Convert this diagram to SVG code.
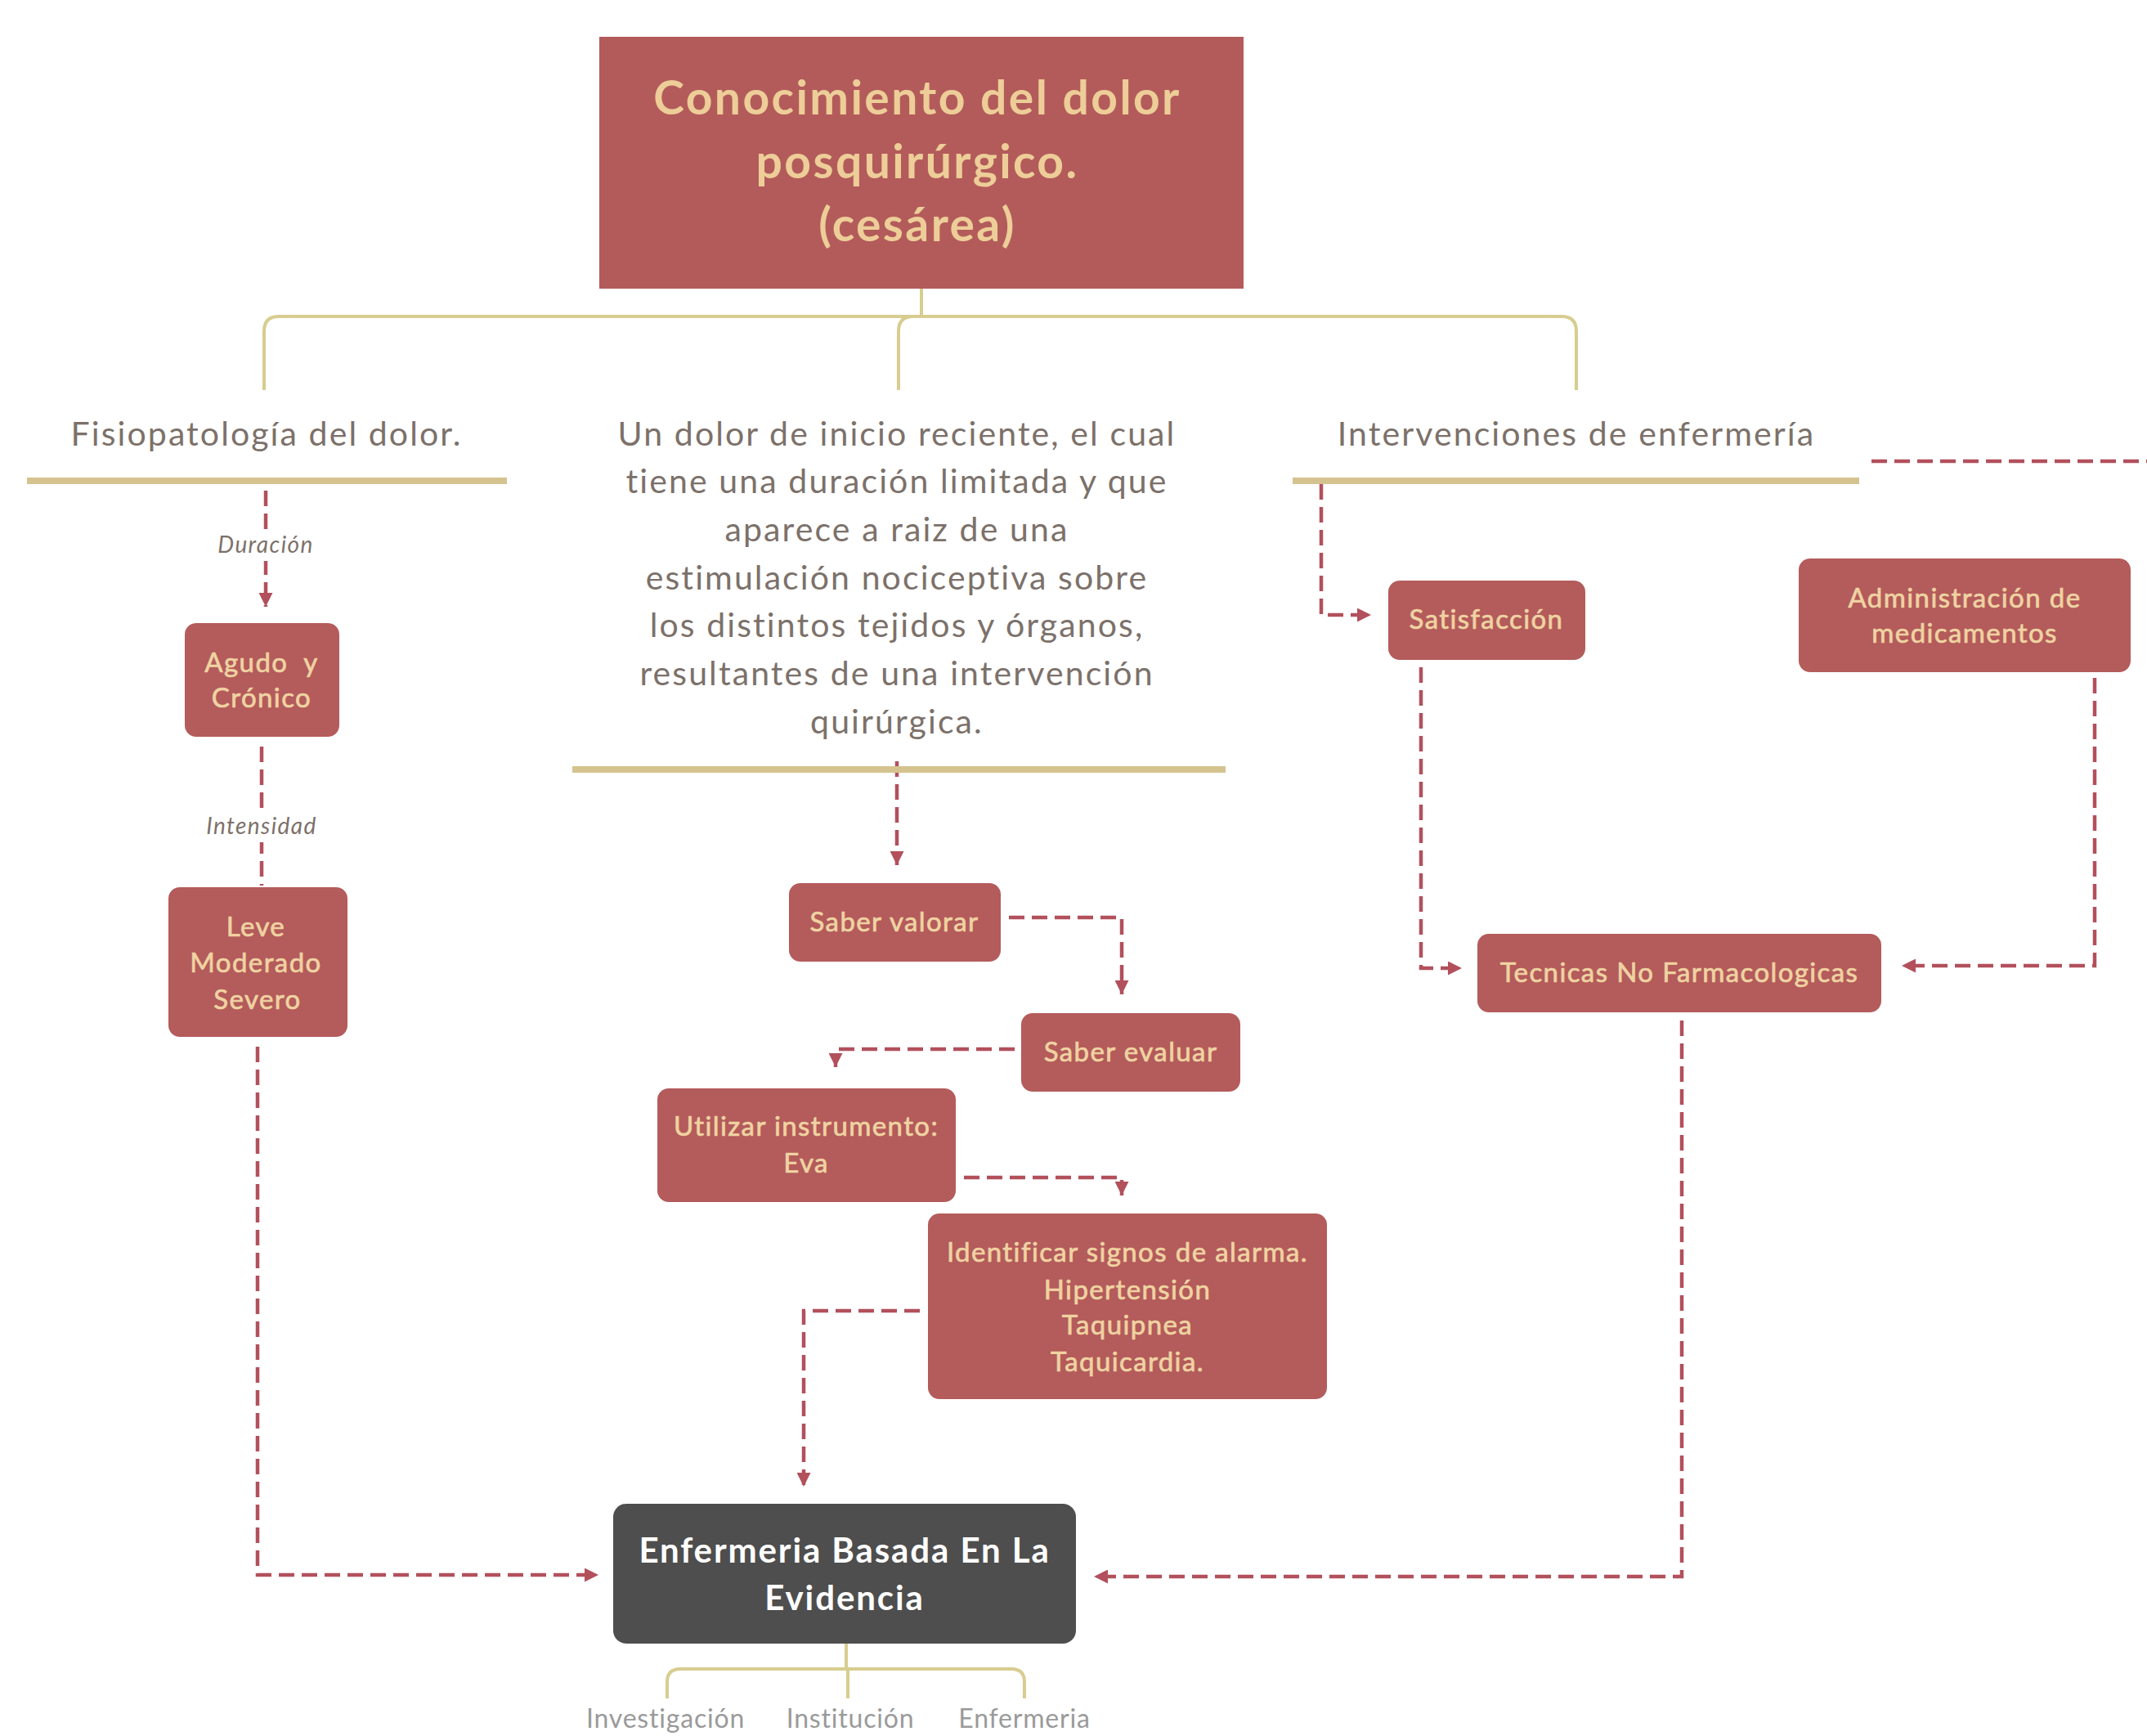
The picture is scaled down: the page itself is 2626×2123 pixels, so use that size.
<svg xmlns="http://www.w3.org/2000/svg" width="2626" height="2123" viewBox="0 0 2626 2123">
<style>
.box{fill:#B45B5B}
.bt{font-family:Lato,"Open Sans","Liberation Sans",sans-serif;font-size:33px;fill:#EFD3A2;stroke:#EFD3A2;stroke-width:0.7px;text-anchor:middle;letter-spacing:1.4px}
.tt{font-family:Lato,"Open Sans","Liberation Sans",sans-serif;font-size:57px;font-weight:bold;fill:#EDCD98;text-anchor:middle;letter-spacing:2.4px}
.wt{font-family:Lato,"Open Sans","Liberation Sans",sans-serif;font-size:42px;font-weight:bold;fill:#FFFFFF;text-anchor:middle;letter-spacing:1.9px}
.hd{font-family:Lato,"Open Sans","Liberation Sans",sans-serif;font-size:41px;fill:#7C716A;text-anchor:middle;letter-spacing:2.1px}
.lbl{font-family:Lato,"Open Sans","Liberation Sans",sans-serif;font-size:28px;font-style:italic;fill:#7C716A;text-anchor:middle;letter-spacing:1.4px}
.sub{font-family:Lato,"Open Sans","Liberation Sans",sans-serif;font-size:32px;fill:#9A9A9A;text-anchor:middle;letter-spacing:0.8px}
.bar{fill:#D5C38F}
.br{fill:none;stroke:#D8CD90;stroke-width:4}
.dash{fill:none;stroke:#B2505C;stroke-width:4.5;stroke-dasharray:19 9}
</style>
<defs>
<marker id="ah" viewBox="0 0 10 10" refX="10" refY="5" markerWidth="17" markerHeight="17" markerUnits="userSpaceOnUse" orient="auto">
<path d="M0,0 L10,5 L0,10 z" fill="#B2505C"/>
</marker>
</defs>
<rect width="2626" height="2123" fill="#FFFFFF"/>

<g id="brackets">
<path class="br" d="M1127 353 V387"/>
<path class="br" d="M323 477 V405 Q323 387 341 387 H1910 Q1928 387 1928 405 V477"/>
<path class="br" d="M1099 477 V405 Q1099 387 1117 387"/>
<path class="br" d="M1035 2010 V2041"/>
<path class="br" d="M816 2077 V2057 Q816 2041 832 2041 H1237 Q1253 2041 1253 2057 V2077"/>
<path class="br" d="M1037 2041 V2077"/>
</g>

<g id="connectors">
<path class="dash" d="M325 600 V742" marker-end="url(#ah)"/>
<path class="dash" d="M320 913 V1083"/>
<path class="dash" d="M315 1280 V1926 H732" marker-end="url(#ah)"/>
<path class="dash" d="M1097 931 V1058" marker-end="url(#ah)"/>
<path class="dash" d="M1234 1122 H1372 V1216" marker-end="url(#ah)"/>
<path class="dash" d="M1241 1283 H1022 V1305" marker-end="url(#ah)"/>
<path class="dash" d="M1179 1440 H1372 V1462" marker-end="url(#ah)"/>
<path class="dash" d="M1125 1603 H983 V1818" marker-end="url(#ah)"/>
<path class="dash" d="M1616 592 V752 H1677" marker-end="url(#ah)"/>
<path class="dash" d="M1738 816 V1184 H1788" marker-end="url(#ah)"/>
<path class="dash" d="M2562 829 V1181 H2326" marker-end="url(#ah)"/>
<path class="dash" d="M2057 1248 V1928 H1338" marker-end="url(#ah)"/>
<path class="dash" d="M2289 564 H2626"/>
<rect x="258" y="648" width="134" height="38" fill="#FFFFFF"/>
<rect x="242" y="992" width="156" height="38" fill="#FFFFFF"/>
<text class="lbl" x="325" y="676">Duración</text>
<text class="lbl" x="320" y="1020">Intensidad</text>
</g>

<g id="title">
<rect x="733" y="45" width="788" height="308" fill="#B35B5A"/>
<text class="tt" x="1122" y="140">Conocimiento del dolor</text>
<text class="tt" x="1122" y="218">posquirúrgico.</text>
<text class="tt" x="1122" y="295">(cesárea)</text>
</g>

<g id="fisiopatologia">
<text class="hd" x="326" y="545">Fisiopatología del dolor.</text>
<rect class="bar" x="33" y="584" width="587" height="8"/>
</g>

<g id="definicion">
<text class="hd" x="1097" y="545">Un dolor de inicio reciente, el cual</text>
<text class="hd" x="1097" y="603">tiene una duración limitada y que</text>
<text class="hd" x="1097" y="662">aparece a raiz de una</text>
<text class="hd" x="1097" y="721">estimulación nociceptiva sobre</text>
<text class="hd" x="1097" y="779">los distintos tejidos y órganos,</text>
<text class="hd" x="1097" y="838">resultantes de una intervención</text>
<text class="hd" x="1097" y="897">quirúrgica.</text>
<rect class="bar" x="700" y="937" width="799" height="8"/>
</g>

<g id="intervenciones">
<text class="hd" x="1928" y="545">Intervenciones de enfermería</text>
<rect class="bar" x="1581" y="584" width="693" height="8"/>
</g>

<g id="agudo">
<rect class="box" x="226" y="762" width="189" height="139" rx="14"/>
<text class="bt" x="320" y="822" xml:space="preserve">Agudo  y</text>
<text class="bt" x="320" y="865">Crónico</text>
</g>

<g id="leve">
<rect class="box" x="206" y="1085" width="219" height="183" rx="14"/>
<text class="bt" x="313" y="1145">Leve</text>
<text class="bt" x="313" y="1189">Moderado</text>
<text class="bt" x="315" y="1234">Severo</text>
</g>

<g id="saber-valorar">
<rect class="box" x="965" y="1080" width="259" height="96" rx="14"/>
<text class="bt" x="1094" y="1139">Saber valorar</text>
</g>

<g id="saber-evaluar">
<rect class="box" x="1249" y="1239" width="268" height="96" rx="14"/>
<text class="bt" x="1383" y="1298">Saber evaluar</text>
</g>

<g id="utilizar">
<rect class="box" x="804" y="1331" width="365" height="139" rx="14"/>
<text class="bt" x="986" y="1389">Utilizar instrumento:</text>
<text class="bt" x="986" y="1434">Eva</text>
</g>

<g id="identificar">
<rect class="box" x="1135" y="1484" width="488" height="227" rx="14"/>
<text class="bt" x="1379" y="1543">Identificar signos de alarma.</text>
<text class="bt" x="1379" y="1589">Hipertensión</text>
<text class="bt" x="1379" y="1632">Taquipnea</text>
<text class="bt" x="1379" y="1677">Taquicardia.</text>
</g>

<g id="satisfaccion">
<rect class="box" x="1698" y="710" width="241" height="97" rx="14"/>
<text class="bt" x="1818" y="769">Satisfacción</text>
</g>

<g id="administracion">
<rect class="box" x="2200" y="683" width="406" height="139" rx="14"/>
<text class="bt" x="2403" y="743">Administración de</text>
<text class="bt" x="2403" y="786">medicamentos</text>
</g>

<g id="tecnicas">
<rect class="box" x="1807" y="1142" width="494" height="96" rx="14"/>
<text class="bt" x="2054" y="1201">Tecnicas No Farmacologicas</text>
</g>

<g id="ebe">
<rect x="750" y="1839" width="566" height="171" rx="16" fill="#4E4E4E"/>
<text class="wt" x="1033" y="1911">Enfermeria Basada En La</text>
<text class="wt" x="1033" y="1969">Evidencia</text>
</g>

<g id="ebe-items">
<text class="sub" x="814" y="2113">Investigación</text>
<text class="sub" x="1040" y="2113">Institución</text>
<text class="sub" x="1253" y="2113">Enfermeria</text>
</g>
</svg>
